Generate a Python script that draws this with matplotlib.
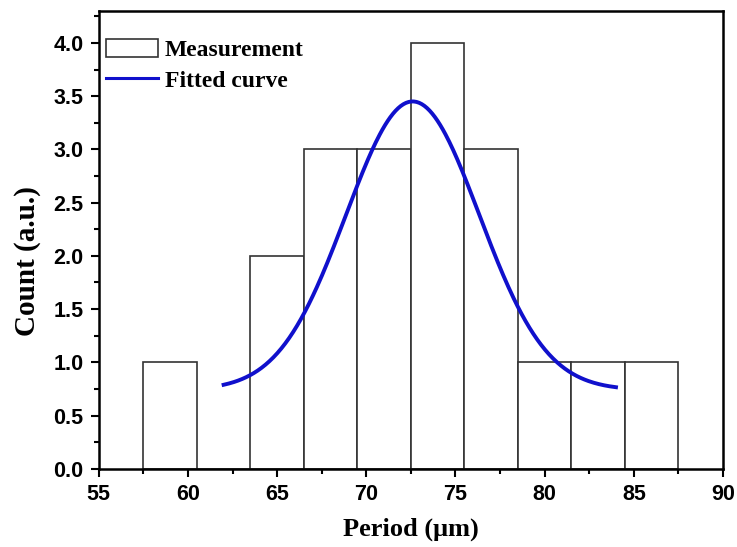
import numpy as np
import matplotlib
matplotlib.use("Agg")
import matplotlib.pyplot as plt
from matplotlib.ticker import MultipleLocator
from matplotlib.patches import Patch
from matplotlib.lines import Line2D

# histogram of measured periods (bin centres, um) and counts
bin_centers = [59, 62, 65, 68, 71, 74, 77, 80, 83, 86]
counts = [1, 0, 2, 3, 3, 4, 3, 1, 1, 1]
bin_width = 3

# Gaussian fit parameters: y0 + A*exp(-(x-xc)^2/(2*w^2))
fit_y0 = 0.74
fit_A = 2.71
fit_xc = 72.6
fit_w = 3.74
fit_range = [62, 84]

fig = plt.figure(figsize=(7.37, 5.47), dpi=100)
ax = fig.add_axes([0.134, 0.143, 0.847, 0.837])

ax.bar(bin_centers, counts, width=bin_width, facecolor='white', edgecolor='#333333', linewidth=1.2, zorder=2)

xf = np.linspace(fit_range[0], fit_range[1], 300)
yf = fit_y0 + fit_A * np.exp(-(xf - fit_xc) ** 2 / (2 * fit_w ** 2))
ax.plot(xf, yf, color='#1010CC', linewidth=2.8, zorder=3)

ax.set_xlim(55, 90)
ax.set_ylim(0, 4.3)
ax.xaxis.set_major_locator(MultipleLocator(5))
ax.xaxis.set_minor_locator(MultipleLocator(2.5))
ax.yaxis.set_major_locator(MultipleLocator(0.5))
ax.yaxis.set_minor_locator(MultipleLocator(0.25))
ax.tick_params(which='both', direction='out', top=False, right=False, width=1.5)
ax.tick_params(which='major', length=6, pad=5)
ax.tick_params(which='minor', length=3.5)
for lab in ax.get_xticklabels() + ax.get_yticklabels():
    lab.set_fontfamily('Liberation Sans')
    lab.set_fontweight('bold')
    lab.set_fontsize(15.5)
for s in ax.spines.values():
    s.set_linewidth(1.8)

ax.set_xlabel('Period (\u03bcm)', fontfamily='Liberation Serif', fontweight='bold', fontsize=19, labelpad=9)
ax.set_ylabel('Count (a.u.)', fontfamily='Liberation Serif', fontweight='bold', fontsize=21)
ax.yaxis.set_label_coords(-0.093, 0.454)

handles = [Patch(facecolor='white', edgecolor='#333333', linewidth=1.2),
           Line2D([0], [0], color='#1010CC', linewidth=2.2)]
ax.legend(handles, ['Measurement', 'Fitted curve'], loc='upper left', frameon=False,
          bbox_to_anchor=(0.0, 0.955),
          prop={'family': 'Liberation Serif', 'weight': 'bold', 'size': 17},
          handlelength=2.2, handleheight=0.85, handletextpad=0.3, labelspacing=0.35,
          borderaxespad=0.2, borderpad=0.1)

fig.savefig('out.png', dpi=100)
